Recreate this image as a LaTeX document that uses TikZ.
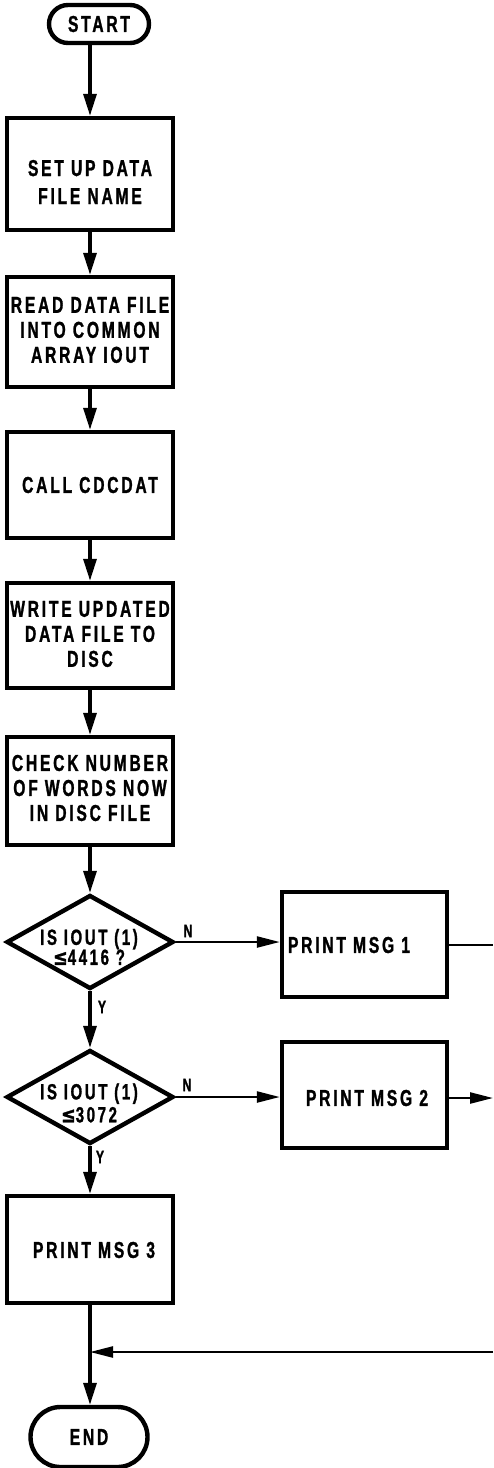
\documentclass[tikz,border=0pt]{standalone}
\usepackage{fontspec}
\setmainfont{Liberation Sans}[FakeStretch=0.68,LetterSpace=12,FakeBold=1.2]
\newfontfamily\relsign{DejaVu Sans}[FakeStretch=0.8,FakeBold=1.2]
\usetikzlibrary{shapes.geometric,shapes.misc,arrows.meta}

\tikzset{
  boxframe/.style={draw, line width=4.4pt, rectangle, inner sep=0pt,
    minimum width=166pt},
  termframe/.style={draw, line width=4.4pt, rounded rectangle, inner sep=0pt},
  decframe/.style={draw, line width=4.4pt, diamond, inner sep=0pt,
    minimum width=167pt, minimum height=94pt},
  lettering/.style={inner sep=0pt, align=center,
    font=\fontsize{23}{25}\selectfont\bfseries},
  flagtext/.style={inner sep=0pt, font=\fontsize{18}{18}\selectfont\bfseries},
  flow/.style={line width=3.2pt, -{Triangle[length=22pt,width=13pt]}},
  sideflow/.style={line width=2.4pt, -{Triangle[length=23pt,width=11pt]}},
  sideline/.style={line width=2.4pt}
}

\begin{document}
\begin{tikzpicture}[x=1pt,y=-1pt]
\useasboundingbox (0,0) rectangle (493,1468);

% terminals
\node[termframe, minimum width=100pt, minimum height=38pt] (start) at (99,24) {};
\node[lettering] (starttxt) at (99,24) {START};
\node[termframe, minimum width=117pt, minimum height=60pt] (end) at (89,1437) {};
\node[lettering] (endtxt) at (89,1437) {END};

% process boxes on the main line
\node[boxframe, minimum height=112pt] (b1) at (90,174) {};
\node[lettering] (t1) at (90,182) {SET UP DATA\\[3pt]FILE NAME};

\node[boxframe, minimum height=110pt] (b2) at (90,332) {};
\node[lettering] (t2) at (90,330) {READ DATA FILE\\INTO COMMON\\ARRAY IOUT};

\node[boxframe, minimum height=106pt] (b3) at (90,485) {};
\node[lettering] (t3) at (90,485) {CALL CDCDAT};

\node[boxframe, minimum height=105pt] (b4) at (90,635.5) {};
\node[lettering] (t4) at (90,634) {WRITE UPDATED\\DATA FILE TO\\DISC};

\node[boxframe, minimum height=108pt] (b5) at (90,791) {};
\node[lettering] (t5) at (90,788) {CHECK NUMBER\\OF WORDS NOW\\IN DISC FILE};

% decisions
\node[decframe] (d1) at (90,942) {};
\node[lettering, font=\fontsize{22}{20}\selectfont\bfseries] (dt1) at (89,947)
  {IS IOUT (1)\\{\relsign ≤}4416 ?};

\node[decframe] (d2) at (90,1097) {};
\node[lettering, font=\fontsize{22}{23}\selectfont\bfseries] (dt2) at (89,1103)
  {IS IOUT (1)\\{\relsign ≤}3072};

% message boxes
\node[boxframe, minimum width=165pt, minimum height=105pt] (m1) at (364.5,944.5) {};
\node[lettering] (mt1) at (349,945) {PRINT MSG 1};

\node[boxframe, minimum width=165pt, minimum height=106pt] (m2) at (364.5,1095) {};
\node[lettering] (mt2) at (367,1098) {PRINT MSG 2};

\node[boxframe, minimum height=107pt] (m3) at (90,1249.5) {};
\node[lettering] (mt3) at (94,1250) {PRINT MSG 3};

% branch flags
\node[flagtext] (n1) at (188,931) {N};
\node[flagtext] (y1) at (102,1007) {Y};
\node[flagtext] (n2) at (187,1085) {N};
\node[flagtext] (y2) at (100,1157) {Y};

% points where lines leave the sheet
\coordinate (out1) at (493,945);
\coordinate (out2) at (493,1098);
\coordinate (back) at (493,1352);
\coordinate (join) at (90,1352);

% main line
\draw[flow] (start.south -| b1.north) -- (b1.north);
\draw[flow] (b1.south) -- (b2.north);
\draw[flow] (b2.south) -- (b3.north);
\draw[flow] (b3.south) -- (b4.north);
\draw[flow] (b4.south) -- (b5.north);
\draw[flow] (b5.south) -- (d1.north);
\draw[flow] (d1.south) -- (d2.north);
\draw[flow] (d2.south) -- (m3.north);
\draw[flow] (m3.south) -- (m3.south |- end.north);

% side branches
\draw[sideflow] (d1.east) -- (d1.east -| m1.west);
\draw[sideflow] (d2.east) -- (d2.east -| m2.west);
\draw[sideline] (m1.east |- out1) -- (out1);
\draw[sideflow] (m2.east |- out2) -- (out2);
\draw[sideflow] (back) -- (join);
\end{tikzpicture}
\end{document}
